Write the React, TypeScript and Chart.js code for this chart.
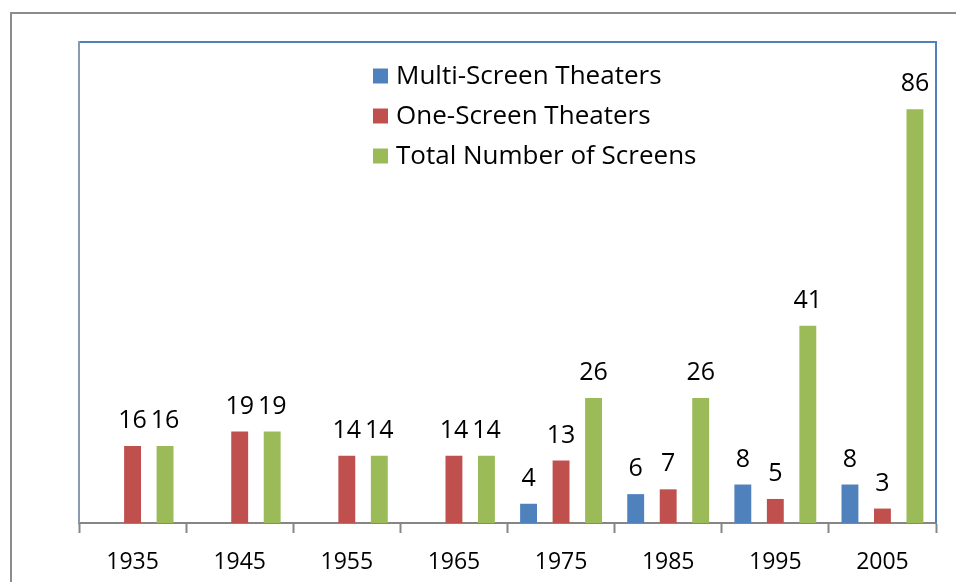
import React, { useEffect, useRef } from "react";
import { Chart, registerables } from "chart.js";

Chart.register(...registerables);

const categories = ["1935", "1945", "1955", "1965", "1975", "1985", "1995", "2005"];
const multiScreen = [0, 0, 0, 0, 4, 6, 8, 8];
const oneScreen = [16, 19, 14, 14, 13, 7, 5, 3];
const totalScreens = [16, 19, 14, 14, 26, 26, 41, 86];
const seriesNames = ["Multi-Screen Theaters", "One-Screen Theaters", "Total Number of Screens"];
const seriesColors = ["#4F81BD", "#C0504D", "#9BBB59"];

const FONT = "'Open Sans', sans-serif";

const labelsPlugin = {
  id: "valueLabels",
  afterDatasetsDraw(chart: any) {
    const ctx = chart.ctx;
    ctx.save();
    ctx.font = `25px ${FONT}`;
    ctx.fillStyle = "#000";
    ctx.textAlign = "center";
    ctx.textBaseline = "middle";
    chart.data.datasets.forEach((ds: any, di: number) => {
      const meta = chart.getDatasetMeta(di);
      meta.data.forEach((el: any, i: number) => {
        const v = ds.data[i];
        if (!v) return;
        ctx.fillText(String(v), el.x, el.y - 25);
      });
    });
    ctx.restore();
  },
};

const frameLegendPlugin = {
  id: "frameLegend",
  afterDraw(chart: any) {
    const ctx = chart.ctx;
    const a = chart.chartArea;
    ctx.save();
    ctx.strokeStyle = "#4F81BD";
    ctx.lineWidth = 2;
    ctx.beginPath();
    ctx.moveTo(a.left, a.top);
    ctx.lineTo(a.right, a.top);
    ctx.lineTo(a.right, a.bottom);
    ctx.stroke();
    ctx.strokeStyle = "#8C9AAE";
    ctx.beginPath();
    ctx.moveTo(a.left, a.top - 1);
    ctx.lineTo(a.left, a.bottom);
    ctx.stroke();
    ctx.font = `26px ${FONT}`;
    ctx.textAlign = "left";
    ctx.textBaseline = "middle";
    const lx = a.left + 294;
    chart.data.datasets.forEach((ds: any, i: number) => {
      const cy = a.top + 34 + i * 40;
      ctx.fillStyle = ds.backgroundColor;
      ctx.fillRect(lx, cy - 7.5, 15, 15);
      ctx.fillStyle = "#000";
      ctx.fillText(ds.label, lx + 23, cy + 1);
    });
    ctx.restore();
  },
};

export default function App() {
  const ref = useRef<HTMLCanvasElement>(null);
  useEffect(() => {
    const values = [multiScreen, oneScreen, totalScreens];
    const chart = new Chart(ref.current!, {
      type: "bar",
      data: {
        labels: categories,
        datasets: values.map((d, i) => ({
          label: seriesNames[i],
          data: d,
          backgroundColor: seriesColors[i],
          borderWidth: 0,
          categoryPercentage: 0.91,
          barPercentage: 0.52,
        })),
      },
      options: {
        animation: false,
        responsive: false,
        maintainAspectRatio: false,
        layout: { padding: { left: 79, top: 42, right: 20, bottom: 0 } },
        plugins: {
          legend: { display: false },
          tooltip: { enabled: false },
        },
        scales: {
          x: {
            grid: {
              display: true,
              drawOnChartArea: false,
              drawTicks: true,
              tickLength: 10,
              tickColor: "#868686",
              tickWidth: 2,
              offset: true,
            },
            border: { display: true, color: "#868686", width: 2 },
            ticks: {
              color: "#000",
              font: { family: FONT, size: 23 },
              padding: 16,
              maxRotation: 0,
            },
            afterFit: (s: any) => {
              s.height = 59;
            },
          },
          y: {
            display: false,
            min: 0,
            max: 100,
          },
        },
      },
      plugins: [labelsPlugin, frameLegendPlugin],
    });
    return () => chart.destroy();
  }, []);

  return (
    <div style={{ position: "fixed", left: 0, top: 0, width: 956, height: 582, background: "#fff", overflow: "hidden" }}>
      <div
        style={{
          position: "absolute",
          left: 10,
          top: 12,
          width: 980,
          height: 620,
          border: "2px solid #8C8C8C",
          boxSizing: "border-box",
        }}
      />
      <canvas ref={ref} width={956} height={582} style={{ position: "absolute", left: 0, top: 0 }} />
    </div>
  );
}
